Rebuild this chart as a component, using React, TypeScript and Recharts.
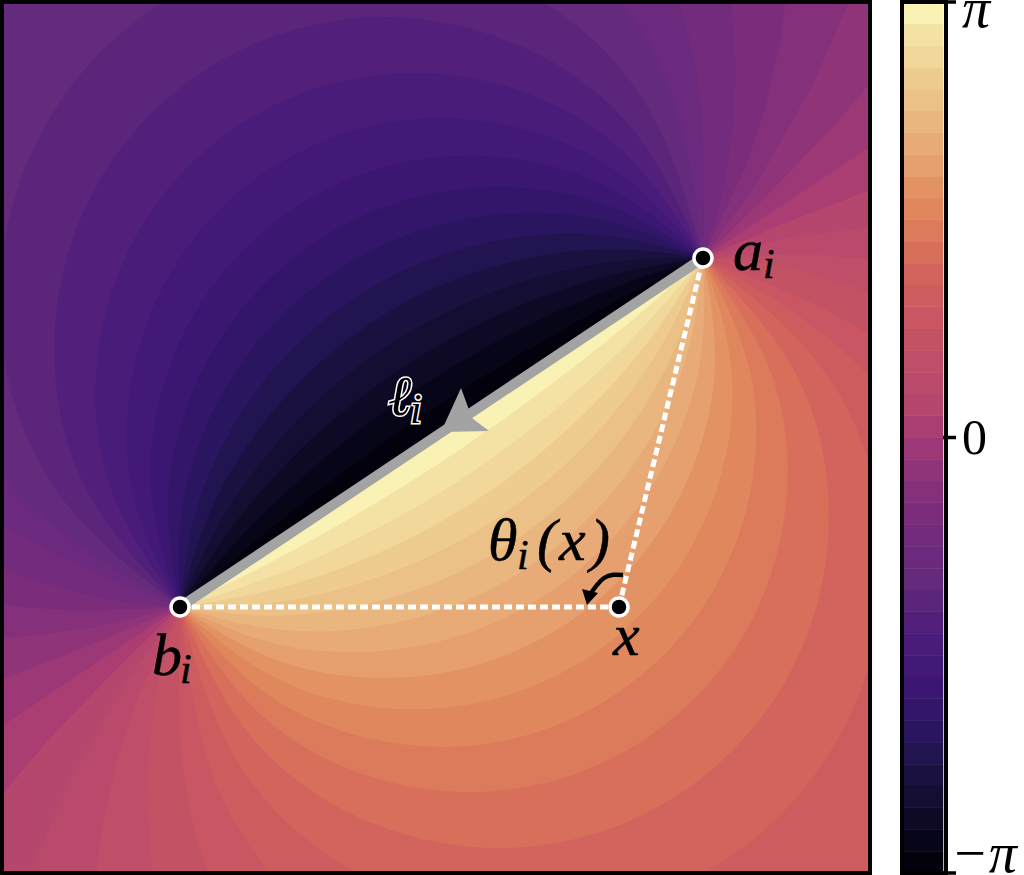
import React from 'react';
import { BarChart, Bar, ScatterChart, Scatter, XAxis, YAxis } from 'recharts';

const bandColors = [
  '#02010c', '#070619', '#0e0a26', '#150e33', '#1b1140', '#221450', '#2a1560', '#33166a',
  '#3c1772', '#421977', '#4a1c7a', '#52207b', '#5b257c', '#642a7c', '#6b2a7d', '#732b7d',
  '#7b2d7c', '#84307b', '#8f3479', '#9c3876', '#aa3e72', '#b5466e', '#ba4a6b', '#bf4e68',
  '#c45265', '#c95662', '#ce5c5f', '#d2645d', '#d86f5b', '#dc7b5c', '#e0875e', '#e39363',
  '#e69f6e', '#e8ab77', '#eab67f', '#ecc187', '#eecc90', '#f1d79a', '#f4e2a5', '#f9f2b4',
];

// contour levels of |theta|, in degrees
const contourLevels = [0, 9, 18, 27, 36, 45, 54, 63, 72, 81, 90, 99, 108, 117, 126, 135, 144, 153, 162, 171];

// half of every contour: [along the segment, away from the segment], from the end point to the crown
const contourHalves: number[][][] = [
  [[314.5, 0], [2000, 0], [2000, 2000], [0, 2000]],
  [[314.5, 0], [400, 16], [500, 38], [600, 67], [700, 101], [1000, 242], [1000, 2000], [0, 2000]],
  [[314.5, 0], [400, 32], [500, 82], [600, 146], [700, 229], [800, 339], [900, 493], [1018, 968], [1018, 2000], [0, 2000]],
  [[314.5, 0], [400, 52], [450, 91], [500, 138], [550, 196], [600, 271], [650, 378], [680, 485], [692, 617], [600, 963], [346, 1217], [0, 1310]],
  [[314.5, 0], [350, 28], [380, 56], [420, 102], [450, 144], [480, 197], [500, 243], [530, 360], [535, 433], [500, 623], [378, 811], [267, 896], [0, 968]],
  [[314.5, 0], [436.2, 227.7], [410.9, 484.7], [247.1, 684.3], [0, 759.3]],
  [[314.5, 0], [387.5, 198], [346.3, 405], [203.1, 559.9], [0, 617.2]],
  [[314.5, 0], [352.7, 174.1], [301, 344.6], [172.5, 468.2], [0, 513.2]],
  [[314.5, 0], [326.6, 153.9], [267.5, 296.6], [150.1, 396.9], [0, 432.9]],
  [[314.5, 0], [306.5, 136.2], [242.1, 256.6], [133.3, 338.9], [0, 368.2]],
  [[314.5, 0], [290.6, 120.4], [222.4, 222.4], [120.4, 290.6], [0, 314.5]],
  [[314.5, 0], [277.8, 105.8], [206.8, 192.3], [110.2, 248.9], [0, 268.6]],
  [[314.5, 0], [267.5, 92.2], [194.4, 165.3], [102.2, 212.3], [0, 228.5]],
  [[314.5, 0], [259.2, 79.4], [184.4, 140.8], [95.8, 179.6], [0, 192.8]],
  [[314.5, 0], [252.4, 67.1], [176.5, 117.8], [90.7, 149.5], [0, 160.2]],
  [[314.5, 0], [247.1, 55.4], [170.2, 96.4], [86.8, 121.8], [0, 130.3]],
  [[314.5, 0], [242.9, 43.8], [165.3, 75.9], [83.7, 95.5], [0, 102.1]],
  [[314.5, 0], [239.8, 32.8], [161.7, 56.5], [81.4, 70.8], [0, 75.6]],
  [[314.5, 0], [237.5, 21.7], [159.2, 37.3], [79.9, 46.6], [0, 49.8]],
  [[314.5, 0], [236.2, 10.5], [157.8, 18.2], [79, 22.8], [0, 24.4]],
];

const plotW = 864;
const plotH = 867;

// named points of the figure, x and y in plot units
const pointA = { x: 699, y: 613 };
const pointB = { x: 176, y: 264 };
const pointX = { x: 615, y: 264 };
const frameCorners = [{ x: 0, y: 0 }, { x: plotW, y: 0 }, { x: plotW, y: plotH }, { x: 0, y: plotH }];
const arrowHead = [{ x: 437, y: 439 }, { x: 457, y: 483 }, { x: 468, y: 453 }, { x: 485, y: 440 }];
const turnCurve = [{ x: 619, y: 296 }, { x: 600, y: 293 }, { x: 583, y: 272 }];
const turnHead = [{ x: 583, y: 266 }, { x: 578, y: 282 }, { x: 594, y: 278 }];

const mainLabels = [
  { x: 729, y: 601, text: 'a' },
  { x: 484, y: 311, text: '\u03b8' },
  { x: 533, y: 311, text: '(' },
  { x: 555, y: 311, text: 'x' },
  { x: 586, y: 311, text: ')' },
  { x: 609, y: 216, text: 'x' },
  { x: 148, y: 196, text: 'b' },
];
const subLabels = [
  { x: 759, y: 593, text: 'i' },
  { x: 513, y: 302, text: 'i' },
  { x: 176, y: 188, text: 'i' },
];
const outlinedLabels = [
  { x: 384, y: 456, text: '\u2113', big: true },
  { x: 406, y: 448, text: 'i', big: false },
];

const colorbarTicks = [0, Math.PI, 2 * Math.PI];
const serif = '"Liberation Serif", serif';

// segment mid point and directions, used to place the contours in plot units
const midX = (pointA.x + pointB.x) / 2;
const midY = (pointA.y + pointB.y) / 2;
const ux = 0.8315;
const uy = 0.5549;

const contourPoints = (half: number[][], side: number) => {
  const mirrored = half.slice(0, -1).reverse().map(([w, s]) => [-w, s]);
  return [...half, ...mirrored].map(([w, s]) => ({
    x: midX + w * ux + side * s * uy,
    y: midY + w * uy - side * s * ux,
  }));
};

const colorbarRow: Record<string, number> = { name: 0 };
bandColors.forEach((_, i) => {
  colorbarRow[`band${i}`] = (2 * Math.PI) / bandColors.length;
});

const noShape = () => <g />;

const mathText = (size: number) => (p: any) => (
  <text x={p.cx} y={p.cy} fontFamily={serif} fontStyle="italic" fontSize={size} fill="#000" stroke="#000" strokeWidth={0.5}>
    {p.payload.text}
  </text>
);

const outlinedText = (p: any) => (
  <text
    x={p.cx}
    y={p.cy}
    fontFamily={serif}
    fontStyle="italic"
    fontSize={p.payload.big ? 56 : 42}
    fill="#000"
    stroke="#fff"
    strokeWidth={3}
    paintOrder="stroke"
  >
    {p.payload.text}
  </text>
);

const ColorbarTick = ({ x, y, payload }: any) => {
  const v = payload.value;
  if (v < 1) {
    return <text x={x - 7} y={y - 1} fontFamily={serif} fontSize={56} fontStyle="italic" fill="#000">{'\u2212\u03c0'}</text>;
  }
  if (v < 4) {
    return <text x={x + 4} y={y + 16} fontFamily={serif} fontSize={50} fill="#000">0</text>;
  }
  return <text x={x + 4} y={y + 25} fontFamily={serif} fontSize={56} fontStyle="italic" fill="#000">{'\u03c0'}</text>;
};

const App = () => (
  <div style={{ position: 'absolute', left: 0, top: 0, width: 1024, height: 875, background: '#fff', overflow: 'hidden' }}>
    <div style={{ position: 'absolute', left: 4, top: 4 }}>
      <ScatterChart width={plotW} height={plotH} margin={{ top: 0, right: 0, bottom: 0, left: 0 }}>
        <XAxis type="number" dataKey="x" domain={[0, plotW]} allowDataOverflow hide />
        <YAxis type="number" dataKey="y" domain={[0, plotH]} allowDataOverflow hide />
        <Scatter data={frameCorners} shape={noShape} line={{ fill: bandColors[19], stroke: 'none' }} isAnimationActive={false} />
        {contourLevels.map((level, k) => (
          <Scatter
            key={`upper${level}`}
            data={contourPoints(contourHalves[k], -1)}
            shape={noShape}
            line={{ fill: bandColors[19 - k], stroke: 'none' }}
            lineJointType={level >= 45 ? 'natural' : 'linear'}
            isAnimationActive={false}
          />
        ))}
        {contourLevels.map((level, k) => (
          <Scatter
            key={`lower${level}`}
            data={contourPoints(contourHalves[k], 1)}
            shape={noShape}
            line={{ fill: bandColors[20 + k], stroke: 'none' }}
            lineJointType={level >= 45 ? 'natural' : 'linear'}
            isAnimationActive={false}
          />
        ))}
        <Scatter data={[pointA, pointB]} shape={noShape} line={{ stroke: '#a3a3a3', strokeWidth: 10 }} isAnimationActive={false} />
        <Scatter data={arrowHead} shape={noShape} line={{ fill: '#a3a3a3', stroke: 'none' }} isAnimationActive={false} />
        <Scatter data={[pointB, pointX]} shape={noShape} line={{ stroke: '#fff', strokeWidth: 5, strokeDasharray: '8 4' }} isAnimationActive={false} />
        <Scatter data={[pointX, pointA]} shape={noShape} line={{ stroke: '#fff', strokeWidth: 5, strokeDasharray: '8 4' }} isAnimationActive={false} />
        <Scatter data={turnCurve} shape={noShape} line={{ stroke: '#000', strokeWidth: 4.5 }} lineJointType="natural" isAnimationActive={false} />
        <Scatter data={turnHead} shape={noShape} line={{ fill: '#000', stroke: 'none' }} isAnimationActive={false} />
        <Scatter
          data={[pointA, pointB, pointX]}
          shape={(p: any) => <circle cx={p.cx} cy={p.cy} r={9} fill="#000" stroke="#fff" strokeWidth={3.5} />}
          isAnimationActive={false}
        />
        <Scatter data={mainLabels} shape={mathText(60)} isAnimationActive={false} />
        <Scatter data={subLabels} shape={mathText(42)} isAnimationActive={false} />
        <Scatter data={outlinedLabels} shape={outlinedText} isAnimationActive={false} />
      </ScatterChart>
    </div>
    <div style={{ position: 'absolute', left: 0, top: 0, width: 864, height: 867, border: '4px solid #000' }} />
    <div style={{ position: 'absolute', left: 900, top: 0 }}>
      <BarChart width={124} height={875} data={[colorbarRow]} barCategoryGap={0} margin={{ top: 2, right: 0, bottom: 2, left: 3 }}>
        <XAxis dataKey="name" hide />
        <YAxis
          orientation="right"
          type="number"
          domain={[0, 2 * Math.PI]}
          ticks={colorbarTicks}
          interval={0}
          width={81}
          axisLine={false}
          tickLine={{ stroke: '#000', strokeWidth: 3.5 }}
          tickSize={13}
          tick={<ColorbarTick />}
        />
        {bandColors.map((color, i) => (
          <Bar key={color} dataKey={`band${i}`} stackId="bar" fill={color} stroke={color} strokeWidth={0.6} isAnimationActive={false} />
        ))}
      </BarChart>
    </div>
    <div style={{ position: 'absolute', left: 900, top: 0, width: 40, height: 867, border: '4px solid #000' }} />
  </div>
);

export default App;
